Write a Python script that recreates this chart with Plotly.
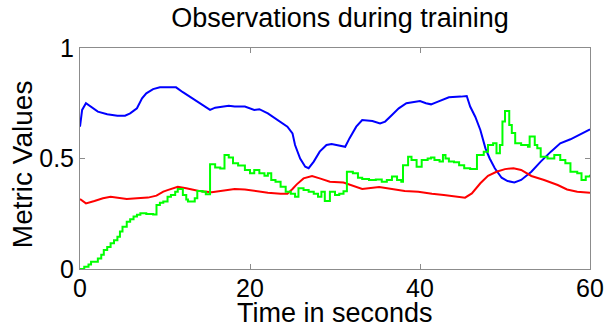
import plotly.graph_objects as go

# ---- data ----
blue_t = [0, 0.25, 0.7, 1.3, 2.1, 3.2, 4.4, 5.3, 5.9, 6.7, 7.3, 7.8, 8.6, 9.4, 10.3, 11.3, 12.1, 13.2,
          14.4, 15.3, 15.9, 17.5, 18.2, 19.4, 20.5, 21.1, 22.1, 23.2, 24.4, 25.0, 25.3, 25.9, 26.5,
          26.9, 27.5, 28.2, 29.0, 29.6, 30.5, 31.2, 31.7, 32.5, 33.2, 34.4, 35.3, 35.9, 36.7, 37.5,
          38.4, 40.0, 40.7, 41.3, 41.9, 43.0, 43.4, 44.8, 45.5, 45.9, 46.5, 47.1, 47.7, 48.2, 48.8,
          49.6, 50.3, 51.1, 51.9, 53.1, 54.2, 55.4, 56.5, 57.7, 58.8, 60.0]
blue_v = [0.644, 0.72, 0.75, 0.734, 0.712, 0.70, 0.694, 0.694, 0.704, 0.727, 0.772, 0.795, 0.814, 0.822,
          0.822, 0.822, 0.80, 0.772, 0.742, 0.72, 0.73, 0.739, 0.735, 0.735, 0.72, 0.723, 0.704, 0.674,
          0.644, 0.614, 0.561, 0.50, 0.463, 0.456, 0.486, 0.531, 0.561, 0.566, 0.558, 0.553, 0.591,
          0.644, 0.674, 0.67, 0.659, 0.667, 0.697, 0.727, 0.75, 0.76, 0.75, 0.745, 0.754, 0.772, 0.777,
          0.78, 0.783, 0.735, 0.689, 0.629, 0.546, 0.50, 0.456, 0.413, 0.398, 0.392, 0.403, 0.44,
          0.486, 0.531, 0.569, 0.587, 0.609, 0.632]

red_t = [0, 0.7, 1.7, 2.7, 3.6, 4.8, 5.5, 6.7, 8.0, 9.0, 9.8, 10.3, 11.5, 12.5, 14.0, 15.5, 16.9, 18.2,
         19.4, 20.6, 22.1, 23.6, 24.4, 25.0, 25.5, 26.3, 27.3, 28.2, 29.4, 31.0, 32.1, 33.2, 35.2,
         36.7, 38.2, 39.8, 41.4, 42.8, 44.4, 45.3, 46.1, 47.1, 48.0, 49.0, 50.0, 51.0, 51.9, 53.1,
         54.6, 56.2, 57.3, 58.5, 60.0]
red_v = [0.317, 0.297, 0.308, 0.32, 0.327, 0.32, 0.317, 0.32, 0.323, 0.332, 0.35, 0.357, 0.372, 0.365,
         0.353, 0.347, 0.355, 0.362, 0.36, 0.353, 0.345, 0.341, 0.341, 0.362, 0.383, 0.41, 0.421, 0.41,
         0.395, 0.391, 0.376, 0.362, 0.371, 0.362, 0.353, 0.35, 0.34, 0.335, 0.327, 0.323, 0.342,
         0.388, 0.422, 0.44, 0.452, 0.456, 0.448, 0.421, 0.403, 0.38, 0.36, 0.35, 0.345]

green_t = [0, 0.5, 1.0, 1.3, 2.1, 2.5, 2.8, 3.2, 3.6, 4.0, 4.4, 4.7, 5.0, 5.5, 5.9, 6.3, 6.7, 7.1, 7.8,
           8.6, 9.0, 9.4, 9.8, 10.3, 10.7, 11.2, 11.5, 12.1, 12.5, 12.7, 13.5, 13.8, 14.4, 14.8, 15.3,
           15.9, 16.5, 17.0, 17.5, 18.0, 18.6, 19.4, 20.0, 20.5, 21.1, 21.7, 22.1, 22.5, 23.0, 23.6,
           24.2, 24.8, 25.3, 25.7, 26.3, 26.9, 27.5, 28.0, 28.4, 28.8, 29.4, 30.0, 30.5, 31.0, 31.4,
           32.1, 32.7, 33.2, 34.0, 34.8, 35.5, 36.1, 36.7, 37.3, 37.8, 38.0, 38.6, 39.0, 39.6, 40.2,
           40.9, 41.3, 41.7, 42.3, 42.7, 43.0, 43.4, 44.0, 44.6, 45.2, 45.9, 46.7, 47.5, 48.0, 48.6,
           49.0, 49.4, 49.7, 50.0, 50.5, 50.8, 51.2, 51.9, 52.7, 52.9, 53.5, 53.8, 54.2, 55.0, 55.8,
           56.5, 57.1, 57.7, 58.5, 59.0, 59.5, 60.0]
green_v = [0.0, 0.01, 0.02, 0.033, 0.048, 0.065, 0.086, 0.10, 0.116, 0.13, 0.146, 0.17, 0.191, 0.214,
           0.225, 0.237, 0.245, 0.252, 0.249, 0.247, 0.29, 0.30, 0.305, 0.327, 0.335, 0.35, 0.362,
           0.335, 0.315, 0.305, 0.32, 0.353, 0.35, 0.338, 0.474, 0.459, 0.455, 0.516, 0.504, 0.478,
           0.468, 0.448, 0.433, 0.448, 0.433, 0.422, 0.433, 0.403, 0.395, 0.372, 0.35, 0.341, 0.327,
           0.365, 0.357, 0.35, 0.341, 0.327, 0.35, 0.308, 0.35, 0.335, 0.341, 0.352, 0.44, 0.433,
           0.413, 0.407, 0.403, 0.405, 0.395, 0.403, 0.418, 0.403, 0.395, 0.47, 0.508, 0.493, 0.463,
           0.493, 0.50, 0.504, 0.493, 0.486, 0.516, 0.50, 0.486, 0.483, 0.47, 0.456, 0.452, 0.516,
           0.531, 0.561, 0.569, 0.524, 0.561, 0.667, 0.715, 0.652, 0.615, 0.569, 0.561, 0.553, 0.599,
           0.561, 0.546, 0.508, 0.50, 0.516, 0.493, 0.478, 0.44, 0.433, 0.403, 0.418, 0.426]

x_ticks = [0, 20, 40, 60]
x_tick_labels = ["0", "20", "40", "60"]
y_ticks = [0, 0.5, 1]
y_tick_labels = ["0", "0.5", "1"]

title_text = "Observations during training"
x_title = "Time in seconds"
y_title = "Metric Values"

FONT = "Liberation Sans, Arial, sans-serif"
AXIS_GRAY = "#8c8c8c"
TICK_SIZE = 25
TITLE_SIZE = 27

fig = go.Figure()
fig.add_trace(go.Scatter(x=blue_t, y=blue_v, mode="lines", line=dict(color="#0000ff", width=2)))
fig.add_trace(go.Scatter(x=red_t, y=red_v, mode="lines", line=dict(color="#ff0000", width=2)))
fig.add_trace(go.Scatter(x=green_t, y=green_v, mode="lines", line=dict(color="#00ff00", width=2, shape="hv")))

fig.update_layout(
    width=616, height=333,
    margin=dict(l=80, r=16, t=48, b=64),
    paper_bgcolor="white", plot_bgcolor="white",
    showlegend=False,
    font=dict(family=FONT, size=TICK_SIZE, color="black"),
    title=dict(text=title_text, x=(80 + 260) / 616, xanchor="center",
               y=1 - 18 / 333, yanchor="middle", yref="container",
               font=dict(family=FONT, size=TITLE_SIZE, color="black")),
    annotations=[
        dict(text=x_title, xref="paper", yref="paper", x=0.5, y=(269 - 313) / 221,
             xanchor="center", yanchor="middle", showarrow=False,
             font=dict(family=FONT, size=TITLE_SIZE, color="black")),
        dict(text=y_title, xref="paper", yref="paper", x=(21 - 80) / 520, y=(269 - 164) / 221,
             xanchor="center", yanchor="middle", showarrow=False, textangle=-90,
             font=dict(family=FONT, size=TITLE_SIZE + 1, color="black")),
    ],
)
fig.update_xaxes(
    range=[0, 60], tickvals=x_ticks, ticktext=x_tick_labels,
    showline=True, linecolor=AXIS_GRAY, linewidth=1, mirror="allticks",
    ticks="inside", ticklen=5, tickcolor=AXIS_GRAY, tickwidth=1,
    showgrid=False, zeroline=False, ticklabelstandoff=-3,
    tickfont=dict(family=FONT, size=TICK_SIZE, color="black"),
)
fig.update_yaxes(
    range=[0, 1], tickvals=y_ticks, ticktext=y_tick_labels,
    showline=True, linecolor=AXIS_GRAY, linewidth=1, mirror="allticks",
    ticks="inside", ticklen=5, tickcolor=AXIS_GRAY, tickwidth=1,
    showgrid=False, zeroline=False,
    tickfont=dict(family=FONT, size=TICK_SIZE, color="black"),
)

fig.write_html("out.html")
